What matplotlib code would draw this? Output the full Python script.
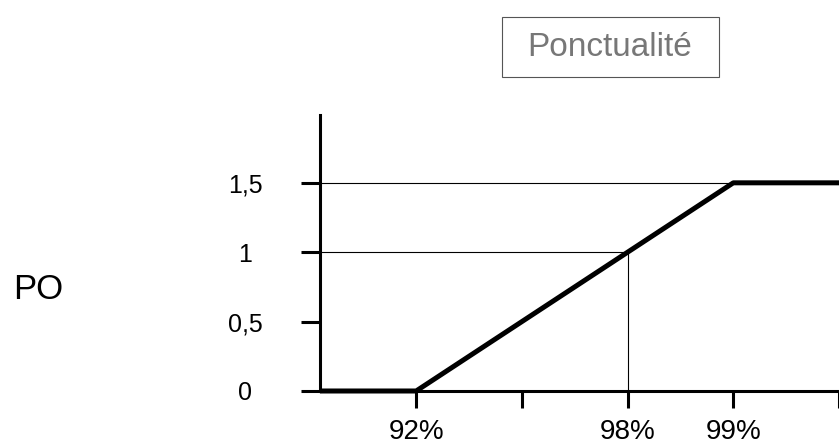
import matplotlib.pyplot as plt
from matplotlib.patches import Rectangle

plt.rcParams['font.family'] = ['Liberation Sans', 'DejaVu Sans']

# x positions are evenly spaced tick slots; labels for each slot
tick_pos = [1, 2, 3, 4, 5]
tick_labels = ['92%', '', '98%', '99%', '']

# PO curve through the tick slots
curve_x = [0.09, 1, 3, 4, 5]
curve_y = [0, 0, 1, 1.5, 1.5]

y_ticks = [0, 0.5, 1, 1.5]
y_labels = ['0', '0,5', '1', '1,5']

fig = plt.figure(figsize=(8.39, 4.44), dpi=100)
ax = fig.add_axes([0.3814, 0.1194, 0.6186, 0.622])

# thin guide lines
ax.plot([0.09, 4], [1.5, 1.5], color='black', lw=0.8)
ax.plot([0.09, 3], [1, 1], color='black', lw=0.8)
ax.plot([3, 3], [0, 1], color='black', lw=0.8)

ax.plot(curve_x, curve_y, color='black', lw=3.6, solid_capstyle='butt', clip_on=False)

ax.set_xlim(0.09, 5)
ax.set_ylim(0, 1.99)

for side in ['top', 'right']:
    ax.spines[side].set_visible(False)
for side in ['left', 'bottom']:
    ax.spines[side].set_linewidth(2.2)

ax.set_xticks(tick_pos)
ax.set_xticklabels(tick_labels, fontsize=20)
ax.set_yticks(y_ticks)
ax.set_yticklabels(y_labels, fontsize=18, ha='center')
ax.tick_params(axis='x', length=12, width=2.2, pad=8)
ax.tick_params(axis='y', length=14, width=2.2, pad=40)

fig.text(38 / 839, 1 - 289 / 444, 'PO', fontsize=25, ha='center', va='center')

fig.patches.append(Rectangle((502 / 839, 1 - 77 / 444), 217 / 839, 60 / 444,
                             transform=fig.transFigure, facecolor='white',
                             edgecolor='#555555', lw=0.8))
fig.text(610 / 839, 1 - 47 / 444, 'Ponctualité', fontsize=24, color='#777777',
         ha='center', va='center')

fig.savefig('out.png', dpi=100)
